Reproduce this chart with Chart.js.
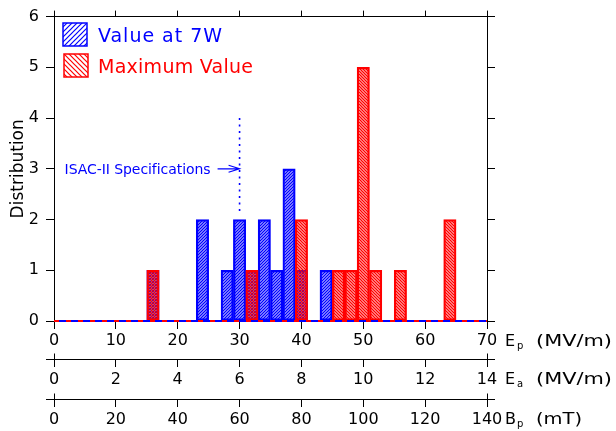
<!DOCTYPE html>
<html><head><meta charset="utf-8">
<script src="https://cdn.jsdelivr.net/npm/chart.js@4.4.0/dist/chart.umd.min.js"></script>
<style>html,body{margin:0;padding:0;background:#fff}#wrap{width:616px;height:431px;position:relative}</style>
</head><body><div id="wrap"><canvas id="c" width="616" height="431"></canvas></div>
<script>
// ---- data (histogram, bin width 2 MV/m, values are bin centres) ----
const seriesNames = ['Value at 7W', 'Maximum Value'];
const binCenters7W = [16, 24, 28, 30, 32, 34, 36, 38, 40, 44];
const counts7W     = [1, 2, 1, 2, 1, 2, 1, 3, 1, 1];
const binCentersMax = [16, 32, 40, 46, 48, 50, 52, 56, 64];
const countsMax     = [1, 1, 2, 1, 1, 5, 1, 1, 2];
const epTicks = [0, 10, 20, 30, 40, 50, 60, 70];
const eaTicks = [0, 2, 4, 6, 8, 10, 12, 14];
const bpTicks = [0, 20, 40, 60, 80, 100, 120, 140];
const yTicks  = [0, 1, 2, 3, 4, 5, 6];
const specEp = 30;          // ISAC-II specification (MV/m)
const specLabel = 'ISAC-II Specifications';
const yTitle = 'Distribution';

const F = "'DejaVu Sans', sans-serif";
const BLUE = '#0000ff', RED = '#ff0000';

const ctx0 = document.getElementById('c').getContext('2d');
function pat(color, dir, p, lw) {
  const c = document.createElement('canvas'); c.width = p; c.height = p;
  const g = c.getContext('2d'); g.strokeStyle = color; g.lineWidth = lw; g.beginPath();
  if (dir > 0) { g.moveTo(0, p); g.lineTo(p, 0); g.moveTo(-1, 1); g.lineTo(1, -1); g.moveTo(p - 1, p + 1); g.lineTo(p + 1, p - 1); }
  else { g.moveTo(0, 0); g.lineTo(p, p); g.moveTo(-1, p - 1); g.lineTo(1, p + 1); g.moveTo(p - 1, -1); g.lineTo(p + 1, 1); }
  g.stroke();
  return ctx0.createPattern(c, 'repeat');
}
const bluePat = pat(BLUE, 1, 3, 1.5);
const redPat = pat(RED, -1, 3, 1.5);
const blueLeg = pat(BLUE, 1, 5, 1.2);
const redLeg = pat(RED, -1, 5, 1.2);

function fitText(ctx, text, x, y, w, font, color) {
  ctx.save(); ctx.font = font; ctx.fillStyle = color; ctx.textAlign = 'left'; ctx.textBaseline = 'alphabetic';
  ctx.letterSpacing = '0px';
  const m = ctx.measureText(text).width;
  const ls = text.length > 1 ? (w - m) / (text.length - 1) : 0;
  ctx.letterSpacing = ls + 'px';
  ctx.fillText(text, x, y);
  ctx.restore();
}
function stretchText(ctx, text, x, y, w, font, color) {
  ctx.save(); ctx.font = font; ctx.fillStyle = color; ctx.textAlign = 'left'; ctx.textBaseline = 'alphabetic';
  const m = ctx.measureText(text).width;
  ctx.translate(x, y); ctx.scale(w / m, 1); ctx.fillText(text, 0, 0);
  ctx.restore();
}

const ticksFrom = arr => function (s) { s.ticks = arr.map(v => ({ value: v })); };
const gridOpt = (len) => ({ drawOnChartArea: false, drawTicks: true, tickLength: len, color: '#000', lineWidth: 1, offset: false });
const tickFont = { family: F, size: 16 };

const extras = {
  id: 'extras',
  afterDraw(chart) {
    const c = chart.ctx, ca = chart.chartArea, sx = chart.scales.x, sy = chart.scales.y;
    c.save();
    // baseline (zero-height bins, blue and red)
    c.lineWidth = 2;
    c.strokeStyle = BLUE; c.beginPath(); c.moveTo(ca.left, ca.bottom); c.lineTo(ca.right, ca.bottom); c.stroke();
    c.setLineDash([5, 7]); c.strokeStyle = RED; c.beginPath(); c.moveTo(ca.left, ca.bottom); c.lineTo(ca.right, ca.bottom); c.stroke();
    c.setLineDash([]);
    // secondary axes lines with crossed ends
    c.strokeStyle = '#000'; c.lineWidth = 1;
    ['ea', 'bp'].forEach(id => {
      const s = chart.scales[id]; const y = Math.round(s.top) + 0.5;
      c.beginPath(); c.moveTo(s.left - 8, y); c.lineTo(s.right + 8, y);
      c.moveTo(Math.round(s.left) + 0.5, y - 6); c.lineTo(Math.round(s.left) + 0.5, y);
      c.moveTo(Math.round(s.right) + 0.5, y - 6); c.lineTo(Math.round(s.right) + 0.5, y);
      c.stroke();
    });
    // unit labels
    const units = [
      { s: 'x', main: 'E', sub: 'p', unit: '(MV/m)', w: 76 },
      { s: 'ea', main: 'E', sub: 'a', unit: '(MV/m)', w: 76 },
      { s: 'bp', main: 'B', sub: 'p', unit: '(mT)', w: 46 }
    ];
    units.forEach(u => {
      const s = chart.scales[u.s];
      const base = (u.s === 'x' ? ca.bottom : s.top) + 25;
      c.fillStyle = '#000'; c.textBaseline = 'alphabetic'; c.textAlign = 'left';
      c.font = '16px ' + F; c.fillText(u.main, 505, base);
      c.font = '10px ' + F; c.fillText(u.sub, 517, base + 3);
      stretchText(c, u.unit, 536, base, u.w, '16px ' + F, '#000');
    });
    // legend
    const leg = [[blueLeg, BLUE, 63, 23, seriesNames[0], 42, 124], [redLeg, RED, 64, 54, seriesNames[1], 73, 155]];
    leg.forEach(([p, col, x, y, txt, bl, w]) => {
      c.fillStyle = p; c.fillRect(x, y, 24, 23);
      c.strokeStyle = col; c.lineWidth = 1.5; c.strokeRect(x, y, 24, 23);
      fitText(c, txt, 98, bl, w, '19px ' + F, col);
    });
    // ISAC-II specification marker
    const px = sx.getPixelForValue(specEp);
    c.strokeStyle = BLUE; c.lineWidth = 1.6; c.setLineDash([2, 4.5]);
    c.beginPath(); c.moveTo(px, sy.getPixelForValue(4)); c.lineTo(px, sy.getPixelForValue(2.1)); c.stroke();
    c.setLineDash([]);
    const ay = sy.getPixelForValue(3);
    c.lineWidth = 1.2;
    c.beginPath(); c.moveTo(px - 22, ay); c.lineTo(px, ay); c.moveTo(px - 11, ay - 3.5); c.lineTo(px, ay); c.lineTo(px - 11, ay + 3.5); c.stroke();
    fitText(c, specLabel, px - 175, ay + 5, 146, '14px ' + F, BLUE);
    c.restore();
  }
};

const lin = (extra) => Object.assign({ type: 'linear', offset: false }, extra);

new Chart(document.getElementById('c'), {
  type: 'bar',
  data: {
    datasets: [
      { label: seriesNames[0], data: binCenters7W.map((x, i) => ({ x, y: counts7W[i] })),
        backgroundColor: bluePat, borderColor: BLUE, borderWidth: 1.6, borderSkipped: false,
        grouped: false, barPercentage: 1, categoryPercentage: 1, order: 1, xAxisID: 'x', yAxisID: 'y' },
      { label: seriesNames[1], data: binCentersMax.map((x, i) => ({ x, y: countsMax[i] })),
        backgroundColor: redPat, borderColor: RED, borderWidth: 1.6, borderSkipped: false,
        grouped: false, barPercentage: 1, categoryPercentage: 1, order: 0, xAxisID: 'x', yAxisID: 'y' }
    ]
  },
  options: {
    responsive: false, animation: false, devicePixelRatio: 1,
    layout: { padding: 0 },
    plugins: { legend: { display: false }, tooltip: { enabled: false } },
    scales: {
      x: lin({ position: 'bottom', weight: 0, min: 0, max: 70,
           afterFit(s) { s.height = 38; }, afterBuildTicks: ticksFrom(epTicks),
           grid: gridOpt(8), border: { display: false },
           ticks: { color: '#000', font: tickFont, padding: 2, maxRotation: 0, autoSkip: false } }),
      ea: lin({ position: 'bottom', weight: 1, min: 0, max: 14,
           afterFit(s) { s.height = 40; }, afterBuildTicks: ticksFrom(eaTicks),
           grid: gridOpt(8), border: { display: false },
           ticks: { color: '#000', font: tickFont, padding: 3, maxRotation: 0, autoSkip: false } }),
      bp: lin({ position: 'bottom', weight: 2, min: 0, max: 140,
           afterFit(s) { s.height = 32; }, afterBuildTicks: ticksFrom(bpTicks),
           grid: gridOpt(8), border: { display: false },
           ticks: { color: '#000', font: tickFont, padding: 3, maxRotation: 0, autoSkip: false } }),
      xTop: lin({ position: 'top', min: 0, max: 70,
           afterFit(s) { s.height = 16; }, afterBuildTicks: ticksFrom(epTicks),
           grid: gridOpt(6), border: { display: true, color: '#000', width: 1 },
           ticks: { display: false } }),
      y: lin({ position: 'left', min: 0, max: 6,
           afterFit(s) { s.width = 54; }, afterBuildTicks: ticksFrom(yTicks),
           grid: gridOpt(8), border: { display: true, color: '#000', width: 1 },
           ticks: { color: '#000', font: tickFont, padding: 7 },
           title: { display: true, text: yTitle, color: '#000', font: { family: F, size: 17 }, padding: { top: 8, bottom: 0 } } }),
      yRight: lin({ position: 'right', min: 0, max: 6,
           afterFit(s) { s.width = 129; }, afterBuildTicks: ticksFrom(yTicks),
           grid: gridOpt(8), border: { display: true, color: '#000', width: 1 },
           ticks: { display: false } })
    }
  },
  plugins: [extras]
});
</script>
</body></html>
